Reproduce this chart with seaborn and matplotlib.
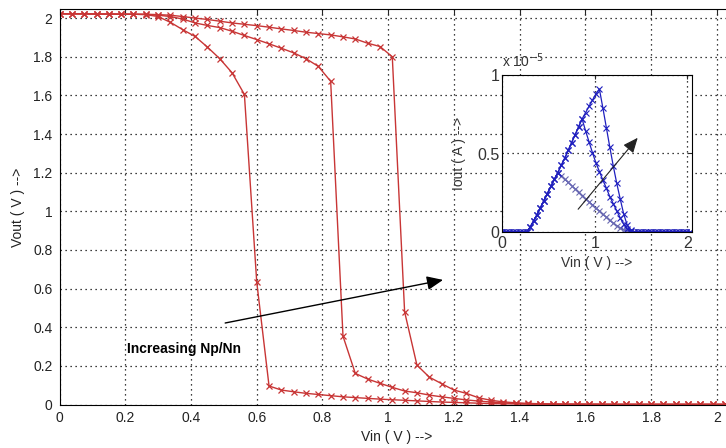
import numpy as np
import matplotlib
matplotlib.use('Agg')
import matplotlib.pyplot as plt
from matplotlib.ticker import FuncFormatter
import seaborn as sns

# sweep of Vin (V), same for all curves
vin = [0, 0.0375, 0.075, 0.1125, 0.15, 0.1875, 0.225, 0.2625, 0.3, 0.3375,
       0.375, 0.4125, 0.45, 0.4875, 0.525, 0.5625, 0.6, 0.6375, 0.675, 0.7125,
       0.75, 0.7875, 0.825, 0.8625, 0.9, 0.9375, 0.975, 1.0125, 1.05, 1.0875,
       1.125, 1.1625, 1.2, 1.2375, 1.275, 1.3125, 1.35, 1.3875, 1.425, 1.4625,
       1.5, 1.5375, 1.575, 1.6125, 1.65, 1.6875, 1.725, 1.7625, 1.8, 1.8375,
       1.875, 1.9125, 1.95, 1.9875, 2.025]

# Vout (V) for three Np/Nn ratios
vout_1 = [2.022, 2.022, 2.022, 2.021, 2.021, 2.020, 2.020, 2.018, 2.008, 1.978,
          1.940, 1.905, 1.850, 1.790, 1.717, 1.605, 0.635, 0.096, 0.075, 0.066,
          0.058, 0.052, 0.046, 0.040, 0.036, 0.032, 0.028, 0.025, 0.022, 0.019,
          0.016, 0.013, 0.011, 0.009, 0.007, 0.005, 0.004, 0.003, 0.002, 0.002,
          0.002, 0.001, 0.001, 0.001, 0.001, 0.001, 0.001, 0.001, 0.001, 0.001,
          0.001, 0.001, 0.001, 0.001, 0.001]
vout_2 = [2.022, 2.022, 2.022, 2.021, 2.021, 2.020, 2.020, 2.019, 2.015, 2.008,
          1.995, 1.975, 1.962, 1.951, 1.932, 1.910, 1.889, 1.867, 1.844, 1.820,
          1.790, 1.750, 1.673, 0.354, 0.161, 0.132, 0.110, 0.089, 0.070, 0.061,
          0.049, 0.040, 0.032, 0.024, 0.018, 0.013, 0.009, 0.006, 0.004, 0.003,
          0.002, 0.002, 0.002, 0.001, 0.001, 0.001, 0.001, 0.001, 0.001, 0.001,
          0.001, 0.001, 0.001, 0.001, 0.001]
vout_3 = [2.022, 2.022, 2.022, 2.021, 2.021, 2.021, 2.020, 2.020, 2.018, 2.015,
          2.008, 2.000, 1.993, 1.984, 1.975, 1.968, 1.961, 1.953, 1.944, 1.936,
          1.927, 1.920, 1.913, 1.903, 1.892, 1.870, 1.853, 1.800, 0.480, 0.204,
          0.142, 0.108, 0.075, 0.058, 0.035, 0.022, 0.014, 0.009, 0.006, 0.004,
          0.003, 0.002, 0.002, 0.002, 0.002, 0.001, 0.001, 0.001, 0.001, 0.001,
          0.001, 0.001, 0.001, 0.001, 0.001]

# Iout in units of 1e-5 A
iout_1 = [0, 0, 0, 0, 0, 0, 0, 0, 0.03, 0.07,
          0.11, 0.155, 0.20, 0.245, 0.29, 0.335, 0.378, 0.358, 0.337, 0.316,
          0.295, 0.274, 0.253, 0.232, 0.212, 0.192, 0.172, 0.152, 0.133, 0.113,
          0.094, 0.074, 0.056, 0.040, 0.026, 0.014, 0.005, 0.001, 0, 0,
          0, 0, 0, 0, 0, 0, 0, 0, 0, 0,
          0, 0, 0, 0, 0]
iout_2 = [0, 0, 0, 0, 0, 0, 0, 0, 0.03, 0.07,
          0.11, 0.155, 0.20, 0.245, 0.29, 0.335, 0.378, 0.425, 0.47, 0.52,
          0.57, 0.62, 0.67, 0.72, 0.645, 0.575, 0.505, 0.44, 0.385, 0.33,
          0.28, 0.225, 0.18, 0.135, 0.09, 0.05, 0.02, 0.004, 0, 0,
          0, 0, 0, 0, 0, 0, 0, 0, 0, 0,
          0, 0, 0, 0, 0]
iout_3 = [0, 0, 0, 0, 0, 0, 0, 0, 0.03, 0.07,
          0.11, 0.155, 0.20, 0.245, 0.29, 0.335, 0.378, 0.425, 0.47, 0.52,
          0.57, 0.62, 0.67, 0.72, 0.76, 0.80, 0.84, 0.88, 0.91, 0.79,
          0.665, 0.54, 0.42, 0.31, 0.21, 0.115, 0.045, 0.01, 0, 0,
          0, 0, 0, 0, 0, 0, 0, 0, 0, 0,
          0, 0, 0, 0, 0]

sns.set_style('white')
plt.rcParams['font.family'] = ['Liberation Sans', 'DejaVu Sans']

fig = plt.figure(figsize=(7.26, 4.48), dpi=100)
ax = fig.add_axes([0.082, 0.097, 0.928, 0.882])

grid_ls = (0, (1, 3))

red = '#c83535'
for vout in [vout_1, vout_2, vout_3]:
    sns.lineplot(x=vin, y=vout, ax=ax, color=red, lw=1, marker='x',
                 markersize=5, markeredgewidth=0.9, markeredgecolor=red)

fmt = FuncFormatter(lambda v, p: f'{v:g}')
ax.set_xlim(0, 2.05)
ax.set_ylim(0, 2.045)
ax.set_xticks(np.arange(0, 2.01, 0.2))
ax.set_yticks(np.arange(0, 2.01, 0.2))
ax.xaxis.set_major_formatter(fmt)
ax.yaxis.set_major_formatter(fmt)
ax.grid(True, linestyle=grid_ls, color='k', lw=0.9)
ax.tick_params(direction='in', top=True, right=True, length=4, width=0.8,
               labelsize=10, pad=5, labelcolor='#222222')
for s in ax.spines.values():
    s.set_color('k')
    s.set_linewidth(0.8)

ax.set_xlabel('Vin ( V ) -->', fontsize=10, color='#222222')
ax.set_ylabel('Vout ( V ) -->', fontsize=10, color='#222222')
ax.xaxis.label.set_va('center')
ax.yaxis.label.set_va('center')
ax.xaxis.set_label_coords(0.5, -0.0815)
ax.yaxis.set_label_coords(-0.0623, 0.5)

ax.annotate('', xy=(1.167, 0.645), xytext=(0.504, 0.422),
            arrowprops=dict(arrowstyle='-|>,head_length=0.7,head_width=0.3',
                            color='k', lw=1, mutation_scale=14,
                            shrinkA=0, shrinkB=0))
ax.text(0.205, 0.287, 'Increasing Np/Nn', fontsize=10, fontweight='bold',
        ha='left', va='center', color='k')

# inset: drain current
axin = fig.add_axes([502.3 / 726, 216 / 448, 189.6 / 726, 157 / 448])
axin.set_facecolor('white')
blue = '#1f1fbf'
mcols = ['#6a6ab0', blue, blue]
for iout, mc in zip([iout_1, iout_2, iout_3], mcols):
    sns.lineplot(x=vin, y=iout, ax=axin, color=blue, lw=0.9, marker='x',
                 markersize=4, markeredgewidth=0.8, markeredgecolor=mc)

axin.set_xlim(0, 2.05)
axin.set_ylim(0, 1)
axin.set_xticks([0, 1, 2])
axin.set_yticks([0, 0.5, 1])
axin.xaxis.set_major_formatter(fmt)
axin.yaxis.set_major_formatter(fmt)
axin.grid(True, linestyle=grid_ls, color='k', lw=0.9)
axin.tick_params(direction='in', top=True, right=True, length=3, width=0.8,
                 labelsize=11.5, labelcolor='#333333')
axin.tick_params(axis='y', pad=2)
axin.tick_params(axis='x', pad=3)
for s in axin.spines.values():
    s.set_color('k')
    s.set_linewidth(0.8)
axin.set_xlabel('Vin ( V ) -->', fontsize=10, color='#333333')
axin.set_ylabel('Iout ( A ) -->', fontsize=10, color='#333333')
axin.xaxis.label.set_va('center')
axin.yaxis.label.set_va('center')
axin.xaxis.set_label_coords(0.5, -0.197)
axin.yaxis.set_label_coords(-0.23, 0.5)
axin.text(0.0, 1.03, 'x 10$^{-5}$', transform=axin.transAxes, fontsize=10,
          ha='left', va='bottom', color='#333333')
axin.annotate('', xy=(1.464, 0.60), xytext=(0.82, 0.145),
              arrowprops=dict(arrowstyle='-|>,head_length=0.7,head_width=0.3',
                              color='#222222', lw=0.8, mutation_scale=13,
                              shrinkA=0, shrinkB=0))

fig.savefig('out.png', dpi=100)
